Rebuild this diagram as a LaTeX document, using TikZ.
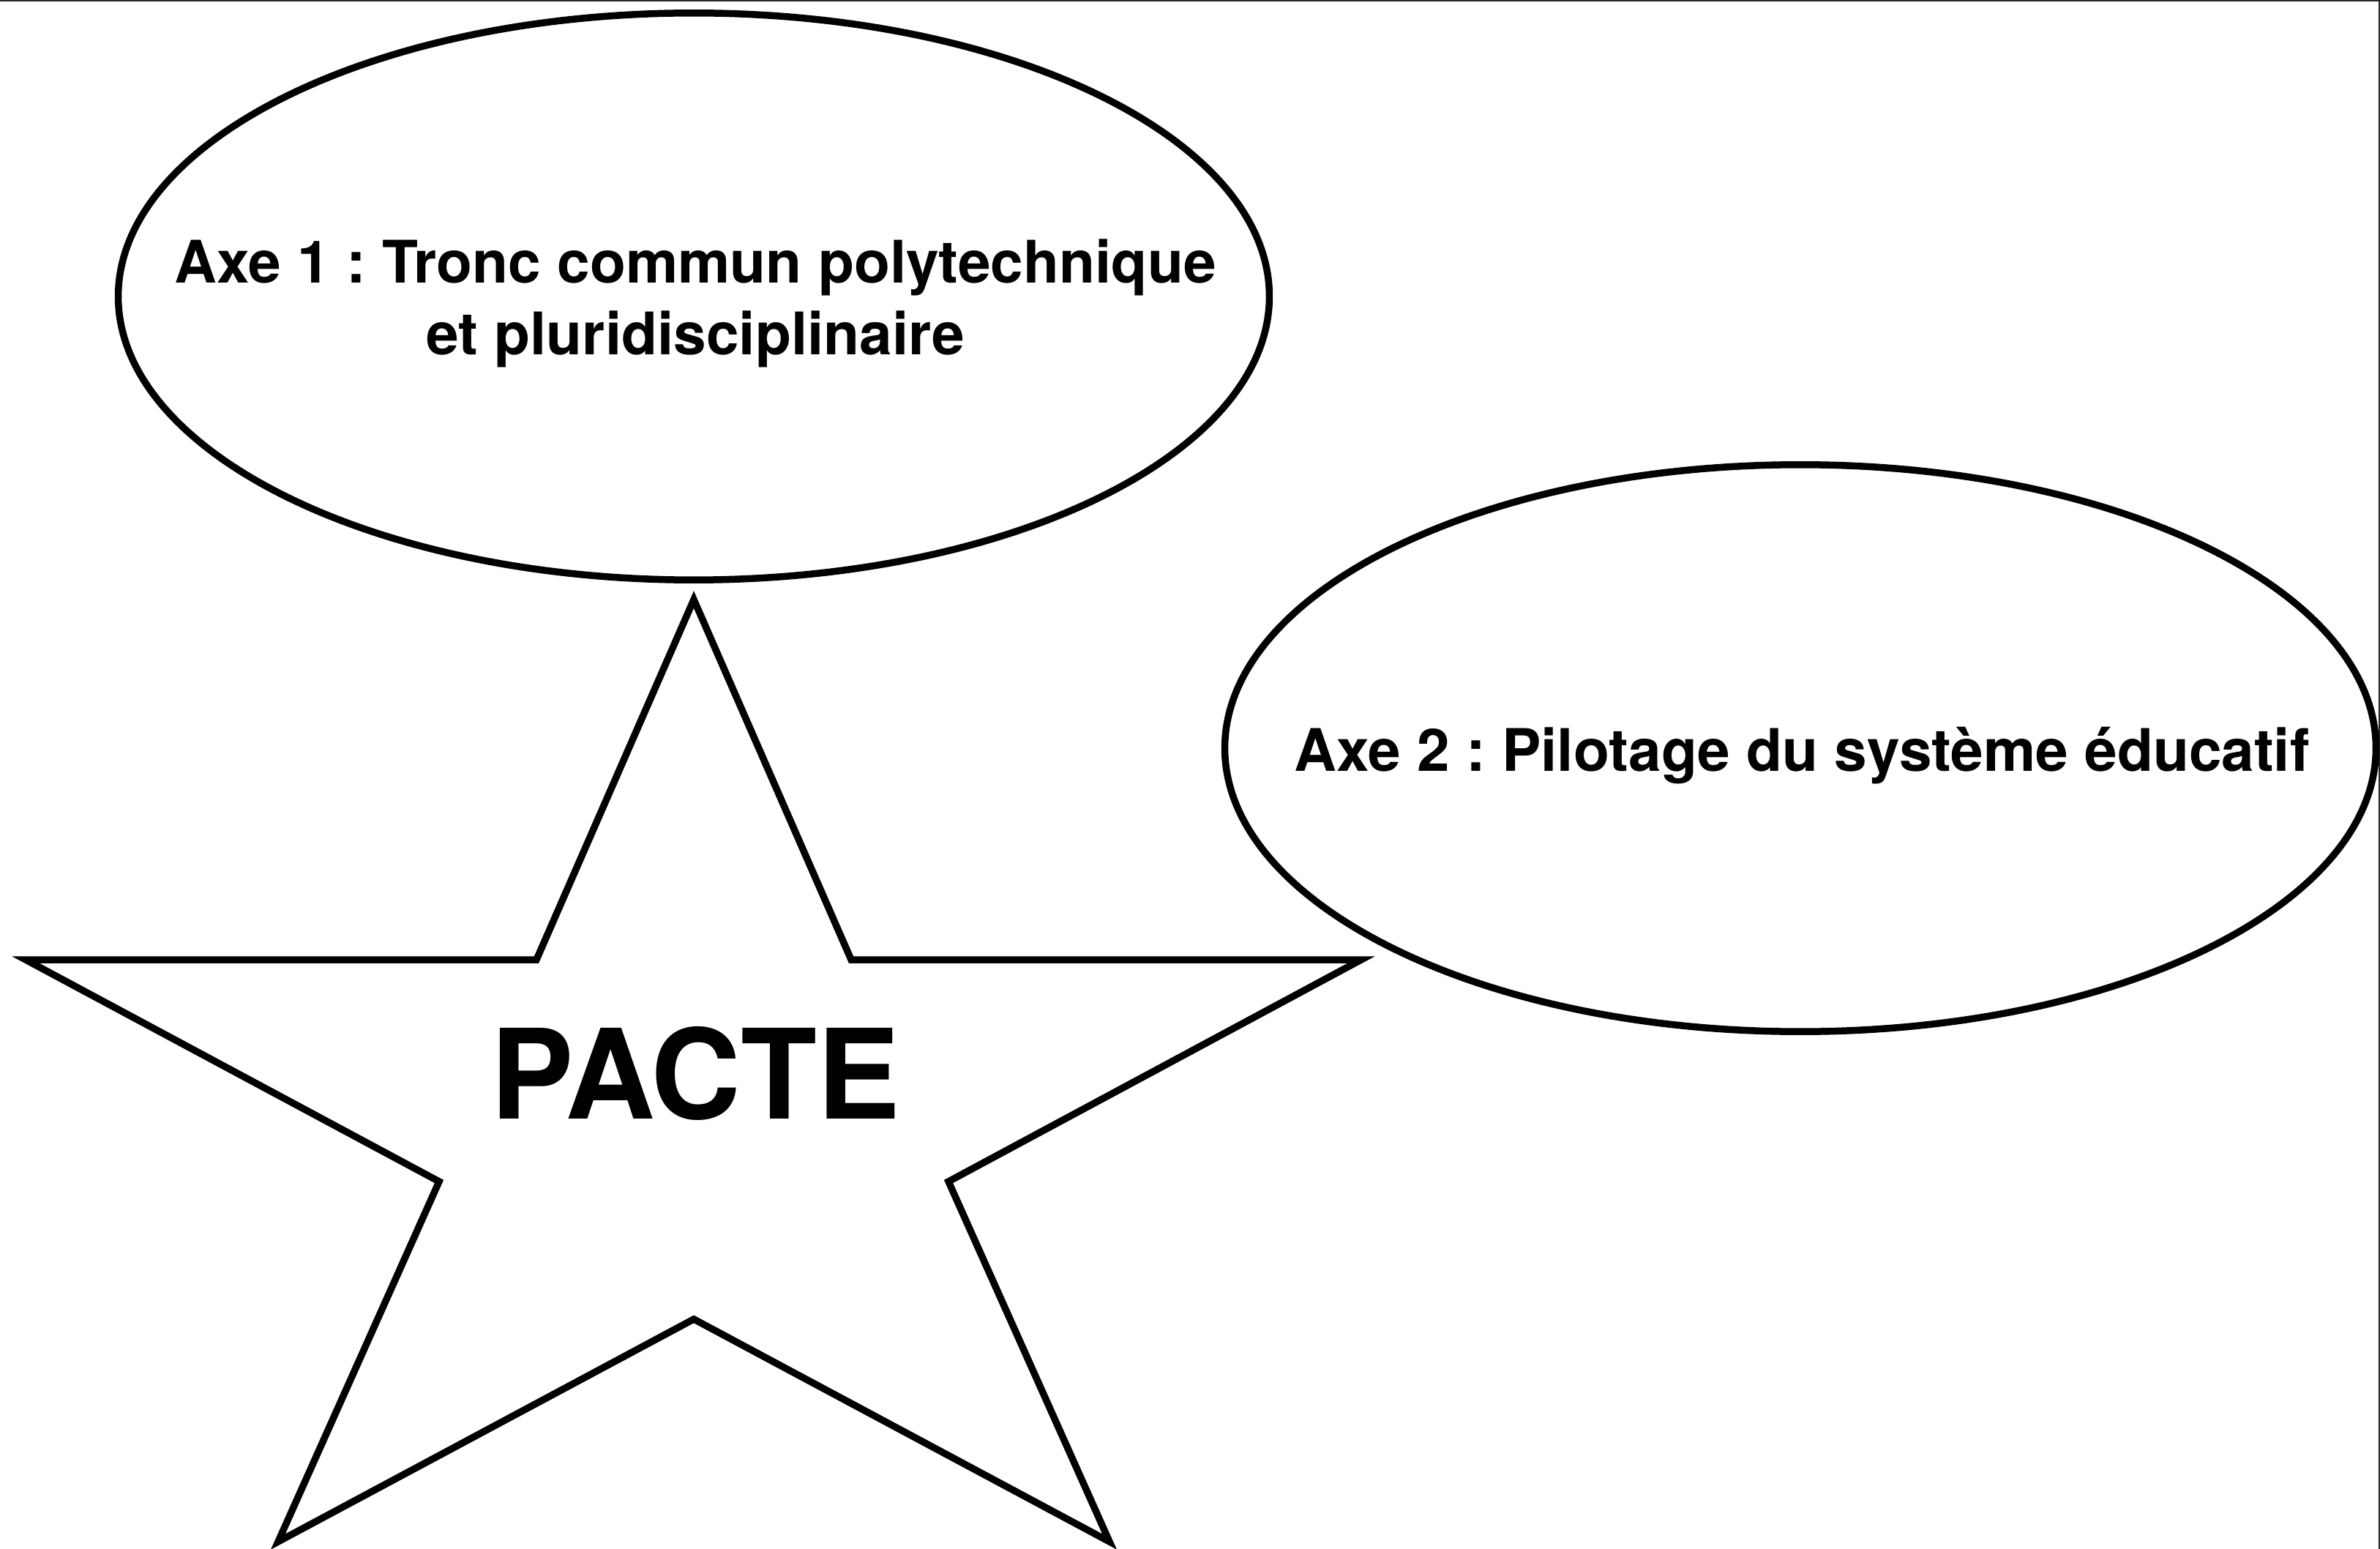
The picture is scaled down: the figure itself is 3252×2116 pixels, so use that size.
\documentclass[tikz,border=0pt]{standalone}
\usepackage{fontspec}
\setmainfont{TeX Gyre Heros}
\usetikzlibrary{shapes.geometric}
\frenchspacing

\tikzset{
  outline/.style={draw=black, line width=0.095cm, line join=miter},
  axeshape/.style={outline, ellipse, inner sep=0pt,
    minimum width=15.72cm, minimum height=7.74cm},
  axetext/.style={font=\bfseries\fontsize{22.8}{27.9}\selectfont,
    align=center, inner sep=0pt},
  titletext/.style={font=\bfseries\fontsize{48.4}{58}\selectfont, inner sep=0pt},
  edge/.style={draw=black!85, line width=0.02cm}
}

\begin{document}
\begin{tikzpicture}[x=0.01cm, y=-0.01cm]
  \useasboundingbox (0,0) rectangle (3252,2116);
  \clip (0,0) rectangle (3252,2116);

  % thin frame along the top and right edges
  \coordinate (tl) at (0,1);
  \coordinate (tr) at (3251,1);
  \coordinate (br) at (3251,2116);
  \draw[edge] (tl) -- (tr) -- (br);

  % the two axes
  \node[axeshape] (axe1) at (948,405) {};
  \node[axeshape] (axe2) at (2460,1022) {};
  % base anchor sits on the last line of a multi-line node
  \node[axetext, anchor=base] (axe1txt) at (950,485)
    {Axe 1 : Tronc commun polytechnique\\et pluridisciplinaire};
  \node[axetext, anchor=base] (axe2txt) at (2462,1053)
    {Axe 2 : Pilotage du système éducatif};

  % five-pointed star, flattened vertically
  \coordinate (sTop) at (948,819);
  \coordinate (sIUR) at (1163,1311);
  \coordinate (sRight) at (1860,1311);
  \coordinate (sILR) at (1296,1614);
  \coordinate (sBR) at (1516,2106);
  \coordinate (sIB) at (948,1802);
  \coordinate (sBL) at (380,2106);
  \coordinate (sILL) at (600,1614);
  \coordinate (sLeft) at (35,1311);
  \coordinate (sIUL) at (733,1311);
  \draw[outline] (sTop) -- (sIUR) -- (sRight) -- (sILR) -- (sBR) -- (sIB)
    -- (sBL) -- (sILL) -- (sLeft) -- (sIUL) -- cycle;

  \node[titletext, anchor=base] (pacte) at (950,1528) {PACTE};
\end{tikzpicture}
\end{document}
